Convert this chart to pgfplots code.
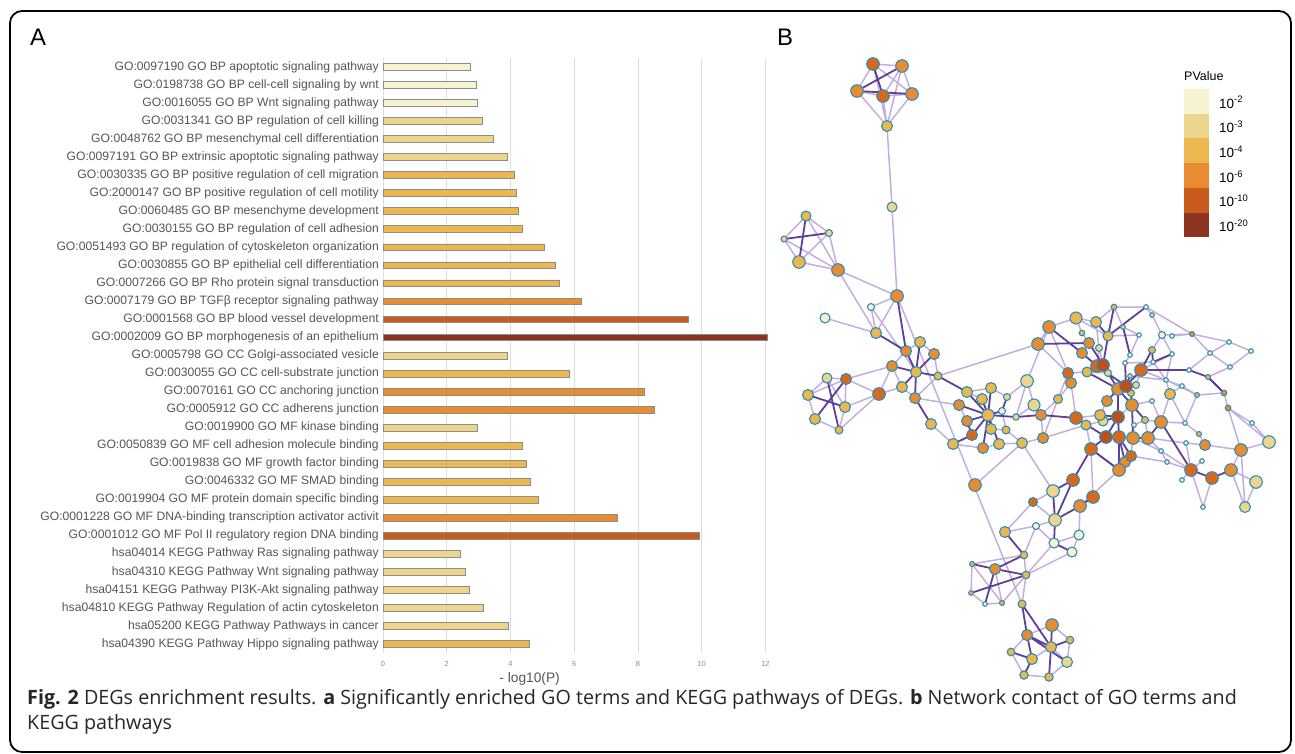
\documentclass[border=0pt]{standalone}
\usepackage{pgfplots}
\pgfplotsset{compat=1.18}
\usepackage{fontspec}
\setmainfont{Liberation Sans}
\newfontfamily\capfont{Open Sans}
\definecolor{c1}{HTML}{F6F3D0}
\definecolor{c2}{HTML}{EED58E}
\definecolor{c3}{HTML}{EBB74F}
\definecolor{c4}{HTML}{E78C32}
\definecolor{c5}{HTML}{C95B1C}
\definecolor{c6}{HTML}{8C3322}
\definecolor{n5}{HTML}{D8691C}
\definecolor{n6}{HTML}{BC4F1A}
\definecolor{labgray}{HTML}{555555}
\definecolor{nodeedge}{HTML}{2F8DB3}
\definecolor{elight}{HTML}{AE94D4}
\definecolor{edark}{HTML}{4E2A8E}
\pgfplotsset{netnode/.style={scatter, only marks, mark=*,
  scatter/use mapped color={draw=nodeedge, fill=#1, line width=1.1bp},
  visualization depends on={\thisrow{s}\as\ms},
  scatter/@pre marker code/.append style={/tikz/mark size=\ms}}}
\begin{document}
\begin{tikzpicture}[x=1bp,y=-1bp]
\useasboundingbox (0,0) rectangle (1295,754);
\draw[line width=1.8bp, rounded corners=12bp] (10,11) rectangle (1291,752);
\node[font=\fontsize{24}{24}\selectfont] at (38,37) {A};
\node[font=\fontsize{24}{24}\selectfont] at (785,37) {B};
% ---------------- Panel A ----------------
\begin{axis}[
  at={(383bp,-58bp)}, anchor=north west,
  scale only axis, width=392bp, height=595bp,
  xmin=0, xmax=12.3, ymin=0.5, ymax=33.5, y dir=reverse,
  xbar, bar width=6.8bp, bar shift=0pt,
  axis line style={draw=none},
  major tick length=0pt,
  xtick={0,2,...,12}, xmajorgrids,
  grid style={black!13, line width=0.9bp},
  ytick={1,...,33},
  yticklabels={
    GO:0097190 GO BP apoptotic signaling pathway,
    GO:0198738 GO BP cell-cell signaling by wnt,
    GO:0016055 GO BP Wnt signaling pathway,
    GO:0031341 GO BP regulation of cell killing,
    GO:0048762 GO BP mesenchymal cell differentiation,
    GO:0097191 GO BP extrinsic apoptotic signaling pathway,
    GO:0030335 GO BP positive regulation of cell migration,
    GO:2000147 GO BP positive regulation of cell motility,
    GO:0060485 GO BP mesenchyme development,
    GO:0030155 GO BP regulation of cell adhesion,
    GO:0051493 GO BP regulation of cytoskeleton organization,
    GO:0030855 GO BP epithelial cell differentiation,
    GO:0007266 GO BP Rho protein signal transduction,
    GO:0007179 GO BP TGFβ receptor signaling pathway,
    GO:0001568 GO BP blood vessel development,
    GO:0002009 GO BP morphogenesis of an epithelium,
    GO:0005798 GO CC Golgi-associated vesicle,
    GO:0030055 GO CC cell-substrate junction,
    GO:0070161 GO CC anchoring junction,
    GO:0005912 GO CC adherens junction,
    GO:0019900 GO MF kinase binding,
    GO:0050839 GO MF cell adhesion molecule binding,
    GO:0019838 GO MF growth factor binding,
    GO:0046332 GO MF SMAD binding,
    GO:0019904 GO MF protein domain specific binding,
    GO:0001228 GO MF DNA-binding transcription activator activit,
    GO:0001012 GO MF Pol II regulatory region DNA binding,
    hsa04014 KEGG Pathway Ras signaling pathway,
    hsa04310 KEGG Pathway Wnt signaling pathway,
    hsa04151 KEGG Pathway PI3K-Akt signaling pathway,
    hsa04810 KEGG Pathway Regulation of actin cytoskeleton,
    hsa05200 KEGG Pathway Pathways in cancer,
    hsa04390 KEGG Pathway Hippo signaling pathway},
  yticklabel style={font=\fontsize{12.2}{13}\selectfont, text=labgray, inner sep=0pt, xshift=-4bp},
  xticklabel style={font=\fontsize{7.5}{8}\selectfont, text=black!45, inner sep=0pt, yshift=-8bp},
  /pgf/number format/assume math mode=true,
  xlabel={- log10(P)},
  xlabel style={font=\fontsize{13.8}{14}\selectfont, text=labgray, inner sep=0pt,
    at={(axis description cs:0.374,0)}, anchor=north, yshift=-19bp},
  clip=false,
]
\addplot[fill=c1, draw=black!45, line width=0.8bp] coordinates {(2.73,1) (2.93,2) (2.96,3)};
\addplot[fill=c2, draw=black!45, line width=0.8bp] coordinates {(3.12,4) (3.46,5) (3.89,6) (3.90,17) (2.96,21) (2.44,28) (2.58,29) (2.72,30) (3.15,31) (3.93,32)};
\addplot[fill=c3, draw=black!45, line width=0.8bp] coordinates {(4.12,7) (4.17,8) (4.25,9) (4.36,10) (5.05,11) (5.42,12) (5.55,13) (5.85,18) (4.37,22) (4.50,23) (4.64,24) (4.89,25) (4.59,33)};
\addplot[fill=c4, draw=black!45, line width=0.8bp] coordinates {(6.23,14) (8.19,19) (8.53,20) (7.36,26)};
\addplot[fill=c5, draw=black!45, line width=0.8bp] coordinates {(9.58,15) (9.93,27)};
\addplot[fill=c6, draw=black!45, line width=0.8bp] coordinates {(12.07,16)};
\end{axis}
% ---------------- Panel B ----------------
\begin{axis}[
  at={(770bp,-40bp)}, anchor=north west,
  x=1bp, y=1bp, y dir=reverse,
  xmin=770, xmax=1290, ymin=40, ymax=700,
  hide axis, clip=false,
]
% light edges
\addplot[no marks, color=elight, line width=1.5bp, opacity=0.75, unbounded coords=jump] coordinates {
(873,64)(902,66)(nan,nan)(873,64)(857,91)(nan,nan)(873,64)(912,94)(nan,nan)(902,66)(883,96)(nan,nan)
(902,66)(912,94)(nan,nan)(857,91)(883,96)(nan,nan)(883,96)(912,94)(nan,nan)(873,64)(887,126)(nan,nan)
(902,66)(887,126)(nan,nan)(857,91)(887,126)(nan,nan)(883,96)(887,126)(nan,nan)(912,94)(887,126)(nan,nan)
(887,126)(892,207)(nan,nan)(892,207)(897,296)(nan,nan)
(806,216)(829,233)(nan,nan)(806,216)(784,239)(nan,nan)(829,233)(799,262)(nan,nan)(784,239)(799,262)(nan,nan)
(784,239)(838,270)(nan,nan)(799,262)(838,270)(nan,nan)(806,216)(838,270)(nan,nan)(829,233)(838,270)(nan,nan)
(838,270)(897,296)(nan,nan)(838,270)(876,333)(nan,nan)
(897,296)(871,307)(nan,nan)(871,307)(876,333)(nan,nan)(825,318)(876,333)(nan,nan)(897,296)(876,333)(nan,nan)
(871,307)(916,372)(nan,nan)(938,376)(1038,344)(nan,nan)(897,296)(1022,604)(nan,nan)
(920,342)(906,351)(nan,nan)(920,342)(934,354)(nan,nan)(906,351)(892,366)(nan,nan)(934,354)(938,376)(nan,nan)
(892,366)(902,387)(nan,nan)(902,387)(915,398)(nan,nan)(938,376)(915,398)(nan,nan)(892,366)(846,379)(nan,nan)
(902,387)(879,394)(nan,nan)(931,424)(953,444)(nan,nan)(915,398)(959,405)(nan,nan)(892,366)(879,394)(nan,nan)
(827,378)(808,395)(nan,nan)(827,378)(845,407)(nan,nan)(846,379)(808,395)(nan,nan)(846,379)(845,407)(nan,nan)
(808,395)(815,419)(nan,nan)(845,407)(839,430)(nan,nan)(815,419)(839,430)(nan,nan)(846,379)(879,394)(nan,nan)
(845,407)(879,394)(nan,nan)(839,430)(879,394)(nan,nan)(827,378)(846,379)(nan,nan)
(967,392)(991,388)(nan,nan)(991,388)(1007,397)(nan,nan)(1007,397)(1027,381)(nan,nan)(1027,381)(1034,405)(nan,nan)
(1041,415)(1058,399)(nan,nan)(1058,399)(1068,373)(nan,nan)(959,405)(967,421)(nan,nan)(991,429)(1006,430)(nan,nan)
(1006,430)(1022,443)(nan,nan)(1022,443)(1043,438)(nan,nan)(1043,438)(1041,415)(nan,nan)(999,444)(1022,443)(nan,nan)
(1027,381)(1016,417)(nan,nan)(1034,405)(1016,417)(nan,nan)(953,444)(983,448)(nan,nan)(983,448)(999,444)(nan,nan)
(1002,411)(1006,430)(nan,nan)(1058,399)(1043,438)(nan,nan)(1022,443)(975,485)(nan,nan)(1022,443)(1053,491)(nan,nan)
(967,392)(982,399)(nan,nan)(1027,381)(1049,327)(nan,nan)(1058,399)(1071,383)(nan,nan)(1043,438)(1086,425)(nan,nan)
(1146,307)(1192,334)(nan,nan)(1152,315)(1162,335)(nan,nan)(1162,335)(1192,334)(nan,nan)(1192,334)(1229,342)(nan,nan)
(1229,342)(1210,353)(nan,nan)(1210,353)(1230,367)(nan,nan)(1251,351)(1230,367)(nan,nan)(1229,342)(1251,351)(nan,nan)
(1210,353)(1189,370)(nan,nan)(1172,354)(1166,380)(nan,nan)(1166,380)(1182,386)(nan,nan)(1182,386)(1197,395)(nan,nan)
(1197,395)(1224,393)(nan,nan)(1224,393)(1228,408)(nan,nan)(1228,408)(1252,423)(nan,nan)(1224,393)(1208,377)(nan,nan)
(1208,377)(1230,367)(nan,nan)(1228,408)(1269,442)(nan,nan)(1252,423)(1269,442)(nan,nan)(1185,423)(1199,434)(nan,nan)
(1199,434)(1205,445)(nan,nan)(1205,445)(1241,450)(nan,nan)(1241,450)(1269,442)(nan,nan)(1241,450)(1231,470)(nan,nan)
(1231,470)(1256,482)(nan,nan)(1256,482)(1245,507)(nan,nan)(1245,507)(1231,470)(nan,nan)(1241,450)(1245,507)(nan,nan)
(1186,443)(1191,470)(nan,nan)(1161,451)(1167,462)(nan,nan)(1167,462)(1191,470)(nan,nan)(1202,461)(1191,470)(nan,nan)
(1182,480)(1191,470)(nan,nan)(1203,507)(1191,470)(nan,nan)(1203,507)(1212,478)(nan,nan)(1186,443)(1205,445)(nan,nan)
(1185,423)(1161,422)(nan,nan)(1182,386)(1170,394)(nan,nan)(1170,394)(1166,380)(nan,nan)
(1049,327)(1076,318)(nan,nan)(1076,318)(1096,322)(nan,nan)(1096,322)(1099,348)(nan,nan)(1099,348)(1103,365)(nan,nan)
(1049,327)(1038,344)(nan,nan)(1038,344)(1068,373)(nan,nan)(1068,373)(1087,372)(nan,nan)(1087,372)(1108,373)(nan,nan)
(1071,383)(1076,418)(nan,nan)(1076,418)(1100,415)(nan,nan)(1100,415)(1103,421)(nan,nan)(1103,421)(1086,425)(nan,nan)
(1086,425)(1091,449)(nan,nan)(1106,437)(1119,437)(nan,nan)(1119,437)(1133,438)(nan,nan)(1133,438)(1131,456)(nan,nan)
(1131,456)(1125,462)(nan,nan)(1125,462)(1119,470)(nan,nan)(1119,470)(1091,449)(nan,nan)(1131,393)(1132,405)(nan,nan)
(1136,385)(1141,370)(nan,nan)(1145,420)(1161,422)(nan,nan)(1145,420)(1148,438)(nan,nan)(1139,335)(1130,355)(nan,nan)
(1130,355)(1125,363)(nan,nan)(1125,363)(1153,362)(nan,nan)(1114,307)(1123,327)(nan,nan)(1123,327)(1139,335)(nan,nan)
(1146,307)(1152,315)(nan,nan)(1089,343)(1082,353)(nan,nan)(1099,348)(1097,366)(nan,nan)(1097,366)(1087,372)(nan,nan)
(1118,389)(1131,393)(nan,nan)(1107,401)(1100,415)(nan,nan)(1132,405)(1118,417)(nan,nan)(1166,380)(1130,376)(nan,nan)
(1082,333)(1089,343)(nan,nan)(1082,333)(1076,318)(nan,nan)(1108,336)(1139,335)(nan,nan)(1141,370)(1166,380)(nan,nan)
(1153,362)(1166,380)(nan,nan)(1148,438)(1161,451)(nan,nan)(1133,438)(1161,451)(nan,nan)(1131,456)(1167,462)(nan,nan)
(1161,422)(1170,394)(nan,nan)(1141,370)(1172,354)(nan,nan)(1152,350)(1162,335)(nan,nan)(1172,336)(1192,334)(nan,nan)
(1152,401)(1132,405)(nan,nan)(1152,401)(1161,422)(nan,nan)(1134,425)(1133,438)(nan,nan)(1134,425)(1145,420)(nan,nan)
(1080,506)(1119,470)(nan,nan)(1093,497)(1091,449)(nan,nan)
(1096,322)(1114,307)(nan,nan)(1114,307)(1146,307)(nan,nan)(1162,335)(1172,354)(nan,nan)(1192,334)(1210,353)(nan,nan)
(1170,394)(1185,423)(nan,nan)(1197,395)(1185,423)(nan,nan)(1228,408)(1241,450)(nan,nan)(1166,380)(1197,395)(nan,nan)
(1148,438)(1186,443)(nan,nan)(1161,451)(1191,470)(nan,nan)(1076,318)(1108,336)(nan,nan)(1049,327)(1068,373)(nan,nan)
(1053,491)(1033,502)(nan,nan)(1033,502)(1055,520)(nan,nan)(1036,526)(1055,520)(nan,nan)(1036,526)(1054,543)(nan,nan)
(1054,543)(1079,535)(nan,nan)(1079,535)(1072,552)(nan,nan)(1079,535)(1080,506)(nan,nan)(1005,532)(1036,526)(nan,nan)
(1005,532)(1033,502)(nan,nan)(1036,526)(1024,555)(nan,nan)(1054,543)(1026,575)(nan,nan)(1072,552)(1026,575)(nan,nan)
(1024,555)(1026,575)(nan,nan)(972,564)(971,593)(nan,nan)(971,593)(985,604)(nan,nan)(985,604)(1002,603)(nan,nan)
(1002,603)(995,569)(nan,nan)(972,564)(1002,603)(nan,nan)(1024,555)(972,564)(nan,nan)(1026,575)(1022,604)(nan,nan)
(1002,603)(1026,575)(nan,nan)
(1052,625)(1070,640)(nan,nan)(1070,640)(1067,662)(nan,nan)(1067,662)(1049,677)(nan,nan)(1049,677)(1024,675)(nan,nan)
(1024,675)(1011,652)(nan,nan)(1011,652)(1027,635)(nan,nan)(1052,625)(1027,635)(nan,nan)(1067,662)(1051,647)(nan,nan)
(1032,659)(1051,647)
};
% dark edges
\addplot[no marks, color=edark, line width=1.8bp, opacity=0.9, unbounded coords=jump] coordinates {
(857,91)(912,94)(nan,nan)(873,64)(883,96)(nan,nan)(902,66)(857,91)(nan,nan)
(806,216)(799,262)(nan,nan)(784,239)(829,233)(nan,nan)
(897,296)(906,351)(nan,nan)(876,333)(906,351)(nan,nan)
(916,372)(920,342)(nan,nan)(916,372)(906,351)(nan,nan)(916,372)(934,354)(nan,nan)(916,372)(892,366)(nan,nan)
(916,372)(938,376)(nan,nan)(916,372)(902,387)(nan,nan)(916,372)(915,398)(nan,nan)(915,398)(931,424)(nan,nan)
(938,376)(967,392)(nan,nan)
(827,378)(839,430)(nan,nan)(846,379)(815,419)(nan,nan)(808,395)(845,407)(nan,nan)
(988,415)(967,392)(nan,nan)(988,415)(991,388)(nan,nan)(988,415)(982,399)(nan,nan)(988,415)(959,405)(nan,nan)
(988,415)(1002,411)(nan,nan)(988,415)(1016,417)(nan,nan)(988,415)(967,421)(nan,nan)(988,415)(991,429)(nan,nan)
(988,415)(972,435)(nan,nan)(988,415)(983,448)(nan,nan)(988,415)(999,444)(nan,nan)(1016,417)(1041,415)(nan,nan)
(1041,415)(1076,418)(nan,nan)(967,421)(972,435)(nan,nan)(972,435)(953,444)(nan,nan)(1002,411)(1007,397)(nan,nan)
(1034,405)(1041,415)(nan,nan)
(1038,344)(1089,343)(nan,nan)(1049,327)(1082,353)(nan,nan)(1089,343)(1103,365)(nan,nan)(1082,353)(1097,366)(nan,nan)
(1103,365)(1118,389)(nan,nan)(1097,366)(1126,386)(nan,nan)(1126,386)(1118,389)(nan,nan)(1118,389)(1132,405)(nan,nan)
(1126,386)(1141,370)(nan,nan)(1141,370)(1152,350)(nan,nan)(1103,365)(1108,336)(nan,nan)(1108,336)(1096,322)(nan,nan)
(1118,389)(1118,417)(nan,nan)(1118,417)(1119,437)(nan,nan)(1119,437)(1119,470)(nan,nan)(1132,405)(1133,438)(nan,nan)
(1133,438)(1148,438)(nan,nan)(1118,417)(1106,437)(nan,nan)(1106,437)(1091,449)(nan,nan)(1071,383)(1068,373)(nan,nan)
(1076,418)(1106,437)(nan,nan)(1132,405)(1131,393)(nan,nan)(1161,422)(1191,470)(nan,nan)(1191,470)(1212,478)(nan,nan)
(1212,478)(1231,470)(nan,nan)(1148,438)(1161,422)(nan,nan)(1141,370)(1189,370)(nan,nan)(1189,370)(1208,377)(nan,nan)
(1208,377)(1224,393)(nan,nan)(1152,350)(1153,362)(nan,nan)(1153,362)(1172,354)(nan,nan)(1108,336)(1114,307)(nan,nan)
(1108,336)(1146,307)(nan,nan)(1123,327)(1130,355)(nan,nan)(1125,363)(1126,386)(nan,nan)(1087,372)(1118,389)(nan,nan)
(1108,373)(1118,389)(nan,nan)(1100,415)(1118,417)(nan,nan)(1103,421)(1118,417)(nan,nan)(1107,401)(1118,389)(nan,nan)
(1136,385)(1126,386)(nan,nan)(1130,376)(1126,386)(nan,nan)(1145,420)(1132,405)(nan,nan)(1131,456)(1119,437)(nan,nan)
(1125,462)(1119,437)(nan,nan)(1091,449)(1119,470)(nan,nan)(1091,449)(1073,480)(nan,nan)(1093,497)(1080,506)(nan,nan)
(1055,520)(1073,480)(nan,nan)(1055,520)(1080,506)(nan,nan)(1055,520)(1054,543)(nan,nan)(1055,520)(1053,491)(nan,nan)
(1054,543)(1072,552)(nan,nan)(1073,480)(1053,491)(nan,nan)(1005,532)(1024,555)(nan,nan)
(972,564)(995,569)(nan,nan)(995,569)(1026,575)(nan,nan)(995,569)(985,604)(nan,nan)(971,593)(1026,575)(nan,nan)
(995,569)(1024,555)(nan,nan)
(1022,604)(1027,635)(nan,nan)(1022,604)(1051,647)(nan,nan)(1027,635)(1051,647)(nan,nan)(1052,625)(1051,647)(nan,nan)
(1051,647)(1070,640)(nan,nan)(1011,652)(1032,659)(nan,nan)(1032,659)(1024,675)(nan,nan)(1051,647)(1049,677)(nan,nan)
(1027,635)(1067,662)(nan,nan)(1027,635)(1032,659)
};
% nodes
\addplot[netnode=c1] table[row sep=\\]{x y s\\
871 307 3.5\\ 825 318 5\\ 1002 411 3.5\\ 1146 307 2.3\\ 1139 335 2.3\\ 1162 335 3.5\\ 1172 336 2.3\\
1229 342 2.3\\ 1130 355 2.3\\ 1251 351 2.3\\ 1210 353 2.3\\ 1172 354 2.3\\ 1125 363 2.3\\ 1153 362 2.3\\
1230 367 2.3\\ 1189 370 2.3\\ 1166 380 2.3\\ 1182 386 2.3\\ 1152 401 2.3\\ 1185 423 2.3\\ 1252 423 2.3\\
1134 425 2.3\\ 1186 443 2.3\\ 1161 451 2.3\\ 1167 462 2.3\\ 1202 461 2.3\\ 1182 480 2.3\\ 1203 507 2.3\\
1036 526 3.5\\ 1054 543 5\\ 1079 535 5\\ 1072 552 5\\ 985 604 2.3\\
};
\addplot[netnode=c2] table[row sep=\\]{x y s\\
892 207 5\\ 829 233 3.5\\ 784 239 3\\ 827 378 5\\ 1007 397 3.5\\ 1027 381 6.3\\ 1016 417 3.2\\
1034 405 6\\ 1152 315 2.3\\ 1123 327 2.3\\ 1099 348 3.5\\ 1108 373 3.5\\ 1130 376 2.3\\ 1136 385 3.5\\
1103 421 5\\ 1053 491 6.3\\ 1055 520 6.3\\ 1269 442 6.3\\ 1256 482 6.3\\ 1245 507 5.5\\ 1067 662 5.5\\
};
\addplot[netnode=c3] table[row sep=\\]{x y s\\
887 126 5.5\\ 806 216 5\\ 799 262 6.3\\ 876 333 5.5\\ 920 342 5.5\\ 916 372 5.5\\ 938 376 4\\
808 395 5.5\\ 902 387 5.5\\ 845 407 5.5\\ 815 419 5.5\\ 839 430 4\\ 931 424 5.5\\ 967 392 5.5\\
991 388 5.5\\ 982 399 5.5\\ 988 415 6\\ 1058 399 4.5\\ 991 429 5.5\\ 1006 430 4\\ 953 444 5.5\\
999 444 5.5\\ 1022 443 5.5\\ 1076 318 6\\ 1096 322 5.5\\ 1114 307 2.8\\ 1082 333 2.8\\ 1108 336 5\\
1152 350 3.5\\ 1087 372 5\\ 1208 377 2.5\\ 1170 394 5.5\\ 1131 393 3.5\\ 1197 395 2.5\\ 1100 415 5.5\\
1086 425 5\\ 1145 420 3.5\\ 1199 434 2.5\\ 1005 532 5.5\\ 1024 555 3.8\\ 972 564 2.5\\ 1026 575 3.8\\
971 593 2.3\\ 1002 603 2.5\\ 1022 604 4\\ 1070 640 3.8\\ 1051 647 5.5\\ 1011 652 3.8\\ 1032 659 5.5\\
1024 675 4.2\\ 1049 677 4.2\\
};
\addplot[netnode=c4] table[row sep=\\]{x y s\\
902 66 6.3\\ 857 91 6.3\\ 912 94 6.3\\ 838 270 6.3\\ 897 296 6.3\\ 906 351 5.5\\ 934 354 5.5\\
892 366 5.5\\ 915 398 5.5\\ 959 405 5.5\\ 967 421 5.5\\ 983 448 5.5\\ 1041 415 5.5\\ 1043 438 5.5\\
1049 327 6.3\\ 1038 344 6.3\\ 1089 343 5.5\\ 1082 353 5.5\\ 1071 383 5.5\\ 1192 334 2.5\\ 1118 389 6.3\\
1224 393 2.8\\ 1107 401 5.5\\ 1228 408 2.8\\ 1132 405 6.3\\ 1161 422 6.3\\ 1133 438 6.3\\ 1148 438 6.3\\
1205 445 5.5\\ 1241 450 6.3\\ 1125 462 5.5\\ 1119 470 6.3\\ 1231 470 6.3\\ 975 485 6.3\\ 1080 506 6.3\\
995 569 5.5\\ 1052 625 6.3\\ 1027 635 5.5\\
};
\addplot[netnode=n5] table[row sep=\\]{x y s\\
873 64 6.3\\ 883 96 6.3\\ 846 379 5.5\\ 879 394 6.3\\ 972 435 5.5\\ 1097 366 6.3\\ 1068 373 5.5\\
1141 370 6.3\\ 1076 418 6.3\\ 1119 437 6.3\\ 1091 449 6.3\\ 1131 456 5.5\\ 1191 470 6.3\\ 1212 478 6.3\\
1073 480 6.3\\ 1093 497 6.3\\ 1033 502 4.5\\
};
\addplot[netnode=n6] table[row sep=\\]{x y s\\
1103 365 6.3\\ 1126 386 6.3\\ 1118 417 6.3\\ 1106 437 6.3\\
};
\end{axis}
% legend of panel B
\node[anchor=base west, font=\fontsize{12.5}{13}\selectfont, inner sep=0pt] at (1184,81) {PValue};
\fill[c1] (1184,89.0) rectangle (1209,113.7);
\fill[c2] (1184,113.7) rectangle (1209,138.4);
\fill[c3] (1184,138.4) rectangle (1209,163.1);
\fill[c4] (1184,163.1) rectangle (1209,187.8);
\fill[c5] (1184,187.8) rectangle (1209,212.5);
\fill[c6] (1184,212.5) rectangle (1209,237.2);
\foreach \e [count=\i] in {-2,-3,-4,-6,-10,-20}{
  \node[anchor=west, font=\fontsize{13.5}{14}\selectfont, inner sep=0pt] at (1219,{89+24.7*(\i-0.5)+1}) {10\textsuperscript{\e}};
}
% caption
\node[anchor=base west, inner sep=0pt, font=\capfont\fontsize{19.8}{22}\selectfont, text=black!85] at (27,704)
  {\textbf{Fig. 2} DEGs enrichment results. \textbf{a} Significantly enriched GO terms and KEGG pathways of DEGs. \textbf{b} Network contact of GO terms and};
\node[anchor=base west, inner sep=0pt, font=\capfont\fontsize{19.8}{22}\selectfont, text=black!85] at (27,729)
  {KEGG pathways};
\end{tikzpicture}
\end{document}
